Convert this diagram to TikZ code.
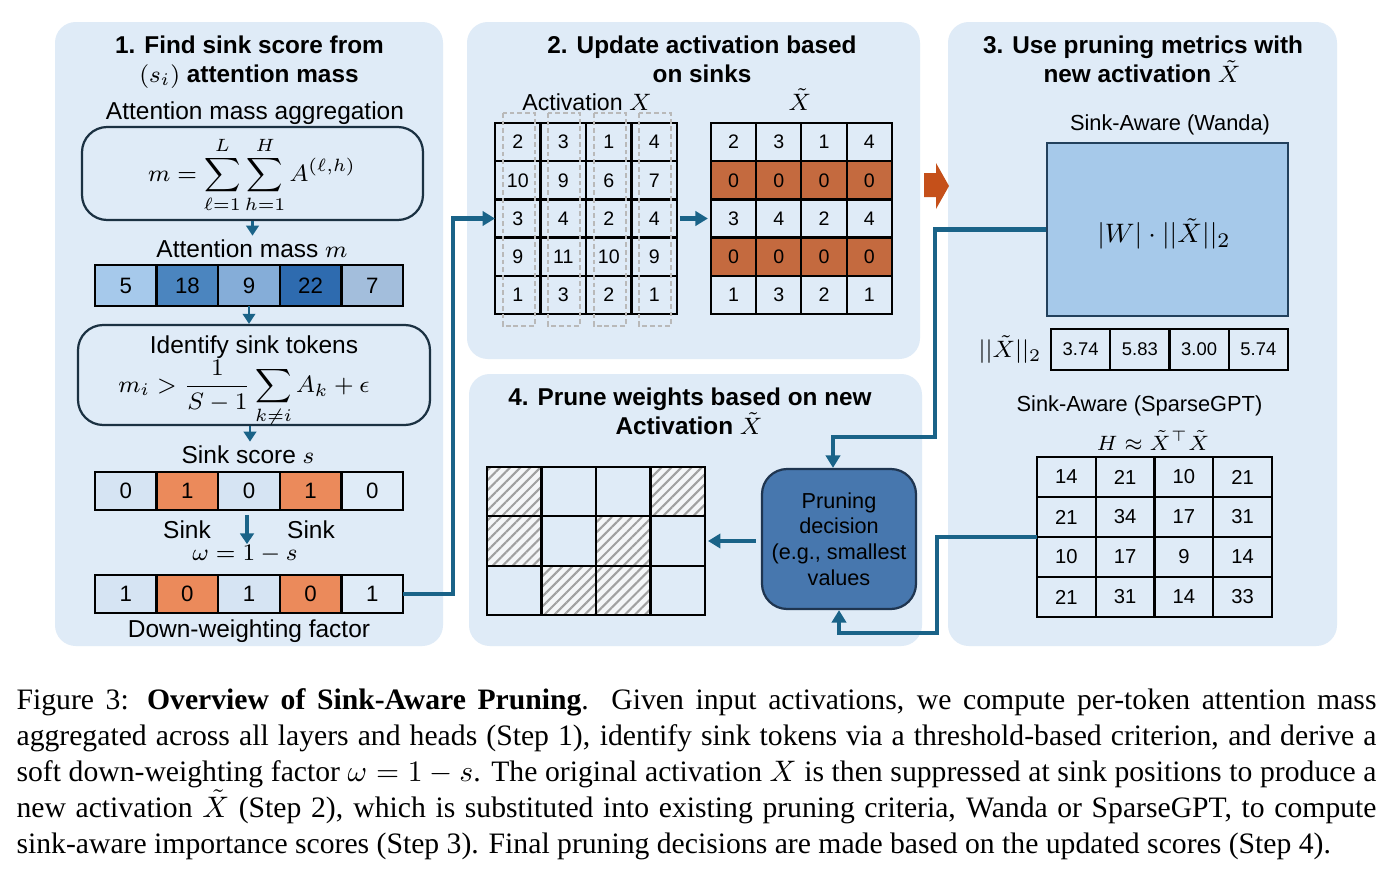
\documentclass[tikz,border=0pt]{standalone}
\usepackage{amsmath}
\usepackage{fontspec}
\setmainfont{Liberation Serif}
\setsansfont{Liberation Sans}
\usetikzlibrary{arrows.meta,patterns.meta,calc}
\definecolor{panelbg}{RGB}{223,235,247}
\definecolor{conncol}{RGB}{26,99,136}
\definecolor{boxcol}{RGB}{27,49,66}
\definecolor{cA}{RGB}{166,201,235}
\definecolor{cB}{RGB}{75,133,191}
\definecolor{cC}{RGB}{133,173,216}
\definecolor{cD}{RGB}{46,107,175}
\definecolor{cE}{RGB}{163,190,220}
\definecolor{lightcell}{RGB}{214,228,243}
\definecolor{orangeL}{RGB}{235,138,91}
\definecolor{orangeD}{RGB}{196,106,63}
\definecolor{blockor}{RGB}{197,80,26}
\definecolor{wandafill}{RGB}{166,201,234}
\definecolor{wandaedge}{RGB}{34,64,92}
\definecolor{prunefill}{RGB}{71,119,174}
\definecolor{pruneedge}{RGB}{31,53,80}
\definecolor{hatchcol}{RGB}{160,160,160}
\definecolor{hatchbg}{RGB}{244,246,248}
\definecolor{dashcol}{RGB}{185,185,185}
\def\PX{0.337pt}
\newcommand{\fsz}[1]{\fontsize{#1}{#1}\selectfont}
\begin{document}
\begin{tikzpicture}[x=0.337pt,y=-0.337pt,
  ttl/.style={font=\sffamily\bfseries\fsz{8.2}, anchor=base, inner sep=0pt},
  lbl/.style={font=\sffamily\fsz{8.25}, anchor=base, inner sep=0pt},
  slbl/.style={font=\sffamily\fsz{7.35}, anchor=base, inner sep=0pt},
  fbox/.style={draw=boxcol, line width=0.75pt, rounded corners=8.5pt, inner sep=0pt},
  cellb/.style={draw=black, line width=0.75pt, inner sep=0pt, outer sep=0pt},
  barcell/.style={cellb, minimum width=61.6*\PX, minimum height=#1*\PX, font=\sffamily\fsz{7.5}},
  mcell/.style={cellb, minimum width=45.5*\PX, minimum height=38.2*\PX, font=\sffamily\fsz{6.6}},
  ncell/.style={cellb, minimum width=59.25*\PX, minimum height=41*\PX, font=\sffamily\fsz{6.2}},
  hcell/.style={cellb, minimum width=58.75*\PX, minimum height=40*\PX, font=\sffamily\fsz{6.8}},
  gcell/.style={cellb, minimum width=54.5*\PX, minimum height=49.33*\PX},
  hatched/.style={preaction={fill=hatchbg}, pattern={Lines[angle=45,distance=2.4pt,line width=0.7pt]}, pattern color=hatchcol},
  sarrow/.style={draw=conncol, line width=0.9pt, -{Triangle[length=3.4pt,width=4.2pt]}},
  barrow/.style={draw=conncol, line width=1.2pt, -{Triangle[length=3.6pt,width=4.6pt]}},
  conn/.style={draw=conncol, line width=1.35pt, -{Triangle[length=4.2pt,width=4.8pt]}},
  dashbox/.style={draw=dashcol, line width=0.55pt, dash pattern=on 1.6pt off 1pt}
]
\fill[white] (0,0) rectangle (1392,877);
\useasboundingbox (0,0) rectangle (1392,877);

% panels
\fill[panelbg, rounded corners=7pt] (55,22) rectangle (443,646);
\fill[panelbg, rounded corners=7pt] (467,22) rectangle (920,359);
\fill[panelbg, rounded corners=7pt] (469,374) rectangle (922,646);
\fill[panelbg, rounded corners=7pt] (948,22) rectangle (1337,646);

% ---------- panel 1 ----------
\node[ttl] (t1a) at (249.5,53) {1. Find sink score from};
\node[ttl] (t1b) at (249,82) {$(s_i)$ attention mass};
\node[lbl] (aggl) at (255,119) {Attention mass aggregation};
\node[fbox, minimum width=341*\PX, minimum height=93*\PX] (agg) at (252.5,173.5) {};
\node[font=\fsz{8.3}, inner sep=0pt] (f1) at (252,175) {$\displaystyle m=\sum_{\ell=1}^{L}\sum_{h=1}^{H}A^{(\ell,h)}$};
\node[lbl] (mlab) at (252,257) {Attention mass $m$};
\foreach \v/\c [count=\i] in {5/cA,18/cB,9/cC,22/cD,7/cE}
  \node[barcell=41, fill=\c] (m-\i) at ({95+61.6*(\i-0.5)},285.5) {\v};
\node[fbox, minimum width=352*\PX, minimum height=100*\PX] (ident) at (254,375) {};
\node[lbl] (idl) at (254,353) {Identify sink tokens};
\node[font=\fsz{8.3}, inner sep=0pt] (f2) at (244,394) {$\displaystyle m_i>\frac{1}{S-1}\sum_{k\neq i}A_k+\epsilon$};
\node[lbl] (slab) at (248,463) {Sink score $s$};
\foreach \v/\c [count=\i] in {0/lightcell,1/orangeL,0/lightcell,1/orangeL,0/panelbg}
  \node[barcell=38, fill=\c] (s-\i) at ({95+61.6*(\i-0.5)},491) {\v};
\node[lbl] (sk1) at (187,538) {Sink};
\node[lbl] (sk2) at (311,538) {Sink};
\node[lbl] (om) at (245,560) {$\omega=1-s$};
\foreach \v/\c [count=\i] in {1/lightcell,0/orangeL,1/lightcell,0/orangeL,1/panelbg}
  \node[barcell=38, fill=\c] (w-\i) at ({95+61.6*(\i-0.5)},594) {\v};
\node[lbl] (dw) at (249,637) {Down-weighting factor};

\draw[sarrow, shorten >=1pt] (agg.south) -- (agg.south |- mlab.north);
\draw[sarrow] (m-3.south) -- (m-3.south |- ident.north);
\draw[sarrow, shorten >=1pt] ([xshift=-4*\PX]ident.south) -- ([xshift=-4*\PX]ident.south |- slab.north);
\draw[barrow, shorten <=1.6pt] ([xshift=-2*\PX]s-3.south) -- ([xshift=-2*\PX]s-3.south |- om.north);

% ---------- panel 2 ----------
\node[ttl] (t2a) at (702,53) {2. Update activation based};
\node[ttl] (t2b) at (702,82) {on sinks};
\node[font=\sffamily\fsz{7.8}, anchor=base, inner sep=0pt] (xlab) at (587,110) {Activation $X$};
\node[font=\fsz{8}, anchor=base, inner sep=0pt] (xtlab) at (800,110) {$\tilde{X}$};
\foreach \row [count=\r] in {{2,3,1,4},{10,9,6,7},{3,4,2,4},{9,11,10,9},{1,3,2,1}} {
  \foreach \v [count=\c] in \row {
    \node[mcell] (x-\r-\c) at ({495+45.5*(\c-0.5)},{123+38.2*(\r-0.5)}) {\v};
  }
}
\foreach \c in {1,2,3,4}
  \draw[dashbox] ({495+45.5*(\c-0.5)-15},113) rectangle ({495+45.5*(\c-0.5)+17},326);
\foreach \row/\f [count=\r] in {{2,3,1,4}/panelbg,{0,0,0,0}/orangeD,{3,4,2,4}/panelbg,{0,0,0,0}/orangeD,{1,3,2,1}/panelbg} {
  \foreach \v [count=\c] in \row {
    \node[mcell, fill=\f] (xt-\r-\c) at ({711+45.25*(\c-0.5)},{123+38.2*(\r-0.5)}) {\v};
  }
}
\draw[conn, shorten <=1pt, shorten >=1pt] (x-3-4.east) -- (xt-3-1.west);
\fill[blockor] (924,173) -- (936,173) -- (936,163) -- (949,186) -- (936,209) -- (936,197) -- (924,197) -- cycle;

% ---------- panel 3 ----------
\node[ttl] (t3a) at (1143,53) {3. Use pruning metrics with};
\node[ttl] (t3b) at (1142,82) {new activation $\tilde{X}$};
\node[slbl] (wl) at (1170,130) {Sink-Aware (Wanda)};
\node[draw=wandaedge, line width=0.75pt, fill=wandafill, minimum width=241*\PX, minimum height=173*\PX, inner sep=0pt] (wanda) at (1167.5,229.5) {};
\node[font=\fsz{9.3}, inner sep=0pt] (wf) at (1164,234) {$|W|\cdot||\tilde{X}||_2$};
\node[font=\fsz{8}, inner sep=0pt] (nl) at (1010,350) {$||\tilde{X}||_2$};
\foreach \v [count=\i] in {3.74,5.83,3.00,5.74}
  \node[ncell] (n-\i) at ({1051+59.25*(\i-0.5)},349.5) {\v};
\node[slbl] (sl) at (1139.5,411) {Sink-Aware (SparseGPT)};
\node[font=\fsz{7.5}, anchor=base, inner sep=0pt] (hl) at (1153,450) {$H\approx\tilde{X}^{\top}\tilde{X}$};
\foreach \row [count=\r] in {{14,21,10,21},{21,34,17,31},{10,17,9,14},{21,31,14,33}} {
  \foreach \v [count=\c] in \row {
    \node[hcell] (h-\r-\c) at ({1037+58.75*(\c-0.5)},{457+40*(\r-0.5)}) {\v};
  }
}

% ---------- panel 4 ----------
\node[ttl] (t4a) at (690,405) {4. Prune weights based on new};
\node[ttl] (t4b) at (689,434) {Activation $\tilde{X}$};
\foreach \r/\c/\h in {1/1/1,1/2/0,1/3/0,1/4/1,2/1/1,2/2/0,2/3/1,2/4/0,3/1/0,3/2/1,3/3/1,3/4/0} {
  \ifnum\h=1
    \node[gcell, hatched] (g-\r-\c) at ({487+54.5*(\c-0.5)},{467+49.33*(\r-0.5)}) {};
  \else
    \node[gcell] (g-\r-\c) at ({487+54.5*(\c-0.5)},{467+49.33*(\r-0.5)}) {};
  \fi
}
\node[draw=pruneedge, line width=0.75pt, fill=prunefill, rounded corners=8.5pt, minimum width=154*\PX, minimum height=140*\PX, inner sep=0pt, align=center, font=\sffamily\fontsize{7.3}{8.6}\selectfont] (prune) at (839,539) {Pruning\\decision\\(e.g., smallest\\values};

% ---------- connectors ----------
\coordinate (j0) at (453,400);
\draw[conn] (w-5.east) -| (j0) |- (x-3-1.west);
\coordinate (j1) at (935,437);
\draw[conn] (wanda.west) -| (j1) -| ([xshift=-6*\PX]prune.north);
\coordinate (j2) at (937,633);
\draw[conn] (h-2-1.south west) -| (j2) -| (prune.south);
\draw[conn, shorten <=1.7pt, shorten >=1pt] (prune.west |- g-2-4.east) -- (g-2-4.east);

% ---------- caption ----------
\begin{scope}[every node/.style={anchor=base west, inner sep=0pt, font=\rmfamily\fontsize{10}{12}\selectfont}]
\node (cap1) at (16,709) {\makebox[458.3pt][s]{Figure 3: \textbf{Overview of Sink-Aware Pruning}. Given input activations, we compute per-token attention mass}};
\node (cap2) at (16,745) {\makebox[458.3pt][s]{aggregated across all layers and heads (Step 1), identify sink tokens via a threshold-based criterion, and derive a}};
\node (cap3) at (16,781) {\makebox[458.3pt][s]{soft down-weighting factor $\omega=1-s$. The original activation $X$ is then suppressed at sink positions to produce a}};
\node (cap4) at (16,817) {\makebox[458.3pt][s]{new activation $\tilde{X}$ (Step 2), which is substituted into existing pruning criteria, Wanda or SparseGPT, to compute}};
\node (cap5) at (16,853) {sink-aware importance scores (Step 3). Final pruning decisions are made based on the updated scores (Step 4).};
\end{scope}
\end{tikzpicture}
\end{document}
